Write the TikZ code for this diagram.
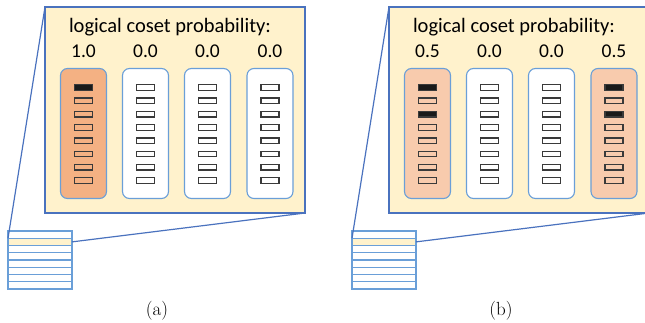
\documentclass[tikz,border=0pt]{standalone}
\usepackage{fontspec}
\newfontfamily\labfont{Carlito}
\definecolor{boxfill}{HTML}{FFF2CC}
\definecolor{boxblue}{HTML}{4A72BE}
\definecolor{colblue}{HTML}{6A9FD8}
\definecolor{orA}{HTML}{F4B183}
\definecolor{orB}{HTML}{F8CBAD}
\definecolor{cellgray}{HTML}{3A3A3A}
\definecolor{cellblack}{HTML}{1A1A1A}
\definecolor{stackblue}{HTML}{6A9FD8}
\newcommand\onepanel[3]{%
\begin{scope}[xshift=#1]
  \node[bigbox] (box#2) at (45,7) {};
  \node[titletext] (title#2) at (170,32) {logical coset probability:};
  \foreach \cx/\p/\f/\pat [count=\i] in {#3} {
    \node[column, fill=\f] (col#2\i) at (\cx,133.5) {};
    \node[probtext] (prob#2\i) at (\cx,57.3) {\p};
    \foreach \r in {1,...,8} {
      \pgfmathtruncatemacro\isblack{(\pat>0)*(\r==1)+(\pat>1)*(\r==3)}
      \pgfmathsetmacro\cy{87.5+13.3*(\r-1)}
      \ifnum\isblack>0 \def\cf{cellblack}\else\def\cf{none}\fi
      \node[cell, fill=\cf] (cell#2\i\r) at (\cx,\cy) {};
    }
  }
  \foreach \r in {1,...,8} {
    \ifnum\r=2 \def\rf{boxfill}\else\def\rf{white}\fi
    \pgfmathsetmacro\ry{231+7.25*(\r-0.5)}
    \node[stackrow, fill=\rf] (row#2\r) at (40,\ry) {};
  }
  \draw[link] (box#2.north west) -- (row#22.north west);
  \draw[link] (box#2.south east) -- (row#22.east);
  \node[captext] (cap#2) at (157,311) {(#2)};
\end{scope}}
\begin{document}
\begin{tikzpicture}[x=1pt,y=-1pt,
  bigbox/.style={draw=boxblue, line width=1.3pt, fill=boxfill, minimum width=260pt, minimum height=206pt, inner sep=0pt, outer sep=0pt, anchor=north west},
  column/.style={draw=colblue, line width=1.1pt, rounded corners=7pt, minimum width=46pt, minimum height=130pt, inner sep=0pt},
  cell/.style={draw=cellgray, line width=1.3pt, minimum width=18pt, minimum height=5.6pt, inner sep=0pt},
  stackrow/.style={draw=stackblue, line width=1.4pt, minimum width=64pt, minimum height=7.25pt, inner sep=0pt, outer sep=0pt},
  link/.style={draw=boxblue, line width=1.2pt},
  titletext/.style={font=\labfont\fontsize{20.5}{23}\selectfont, anchor=base, inner sep=0pt},
  probtext/.style={font=\labfont\fontsize{19.5}{22}\selectfont, anchor=base, inner sep=0pt},
  captext/.style={font=\fontsize{19}{21}\selectfont, inner sep=0pt}]
\useasboundingbox (0,0) rectangle (645,322);
\clip (0,0) rectangle (645,322);
\onepanel{0pt}{a}{83.5/1.0/orA/1,145.5/0.0/white/0,207.5/0.0/white/0,270/0.0/white/0}
\onepanel{344pt}{b}{83.5/0.5/orB/2,145.5/0.0/white/0,207.5/0.0/white/0,270/0.5/orB/2}
\end{tikzpicture}
\end{document}
